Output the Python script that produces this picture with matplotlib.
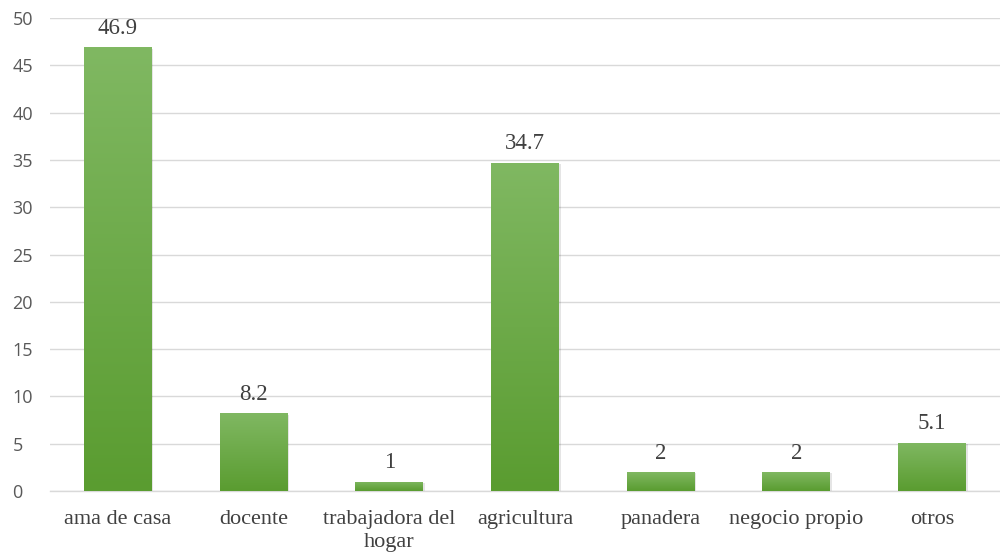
import numpy as np
import matplotlib.pyplot as plt
from matplotlib.colors import LinearSegmentedColormap

categories = ['ama de casa', 'docente', 'trabajadora del\nhogar', 'agricultura',
              'panadera', 'negocio propio', 'otros']
values = [46.9, 8.2, 1, 34.7, 2, 2, 5.1]
value_labels = ['46.9', '8.2', '1', '34.7', '2', '2', '5.1']
yticks = [0, 5, 10, 15, 20, 25, 30, 35, 40, 45, 50]

fig = plt.figure(figsize=(10, 5.57), dpi=100)
ax = fig.add_axes([0.05, 0.1185, 0.95, 0.849])

x = np.arange(len(categories))
width = 0.5

# light-to-dark green gradient for each bar
cmap = LinearSegmentedColormap.from_list('grn', ['#5a9c30', '#80b862'])
grad = np.linspace(0, 1, 256).reshape(-1, 1)

# faint drop shadow behind the bars
ax.bar(x + 0.012, values, width, bottom=-0.15, color='#000000', alpha=0.10, zorder=2)
bars = ax.bar(x, values, width, color='#6aaa44', zorder=3)
for b in bars:
    x0, y0 = b.get_x(), b.get_y()
    w, h = b.get_width(), b.get_height()
    im = ax.imshow(grad, cmap=cmap, aspect='auto', origin='lower',
                   extent=[x0, x0 + w, y0, y0 + h], zorder=4)
    im.set_clip_path(b)

for xi, v, lab in zip(x, values, value_labels):
    ax.text(xi, v + 0.9, lab, ha='center', va='bottom', fontsize=16.5,
            family='Liberation Serif', color='#404040', zorder=5)

ax.set_xlim(-0.5, len(categories) - 0.5)
ax.set_ylim(0, 50)
ax.set_yticks(yticks)
ax.set_yticklabels([str(t) for t in yticks], fontsize=13, color='#595959',
                   family='Open Sans')
ax.set_xticks(x)
ax.set_xticklabels(categories, fontsize=16, family='Liberation Serif',
                   color='#404040', linespacing=1.25, va='top')
ax.tick_params(axis='both', length=0)
ax.tick_params(axis='x', pad=14)
ax.tick_params(axis='y', pad=27)
for lab in ax.get_yticklabels():
    lab.set_horizontalalignment('left')

ax.grid(axis='y', color='#d9d9d9', linewidth=1, zorder=0)
for s in ['top', 'right', 'left']:
    ax.spines[s].set_visible(False)
ax.spines['bottom'].set_color('#d9d9d9')
ax.spines['bottom'].set_linewidth(1)
ax.set_axisbelow(True)

fig.savefig('out.png', dpi=100)
